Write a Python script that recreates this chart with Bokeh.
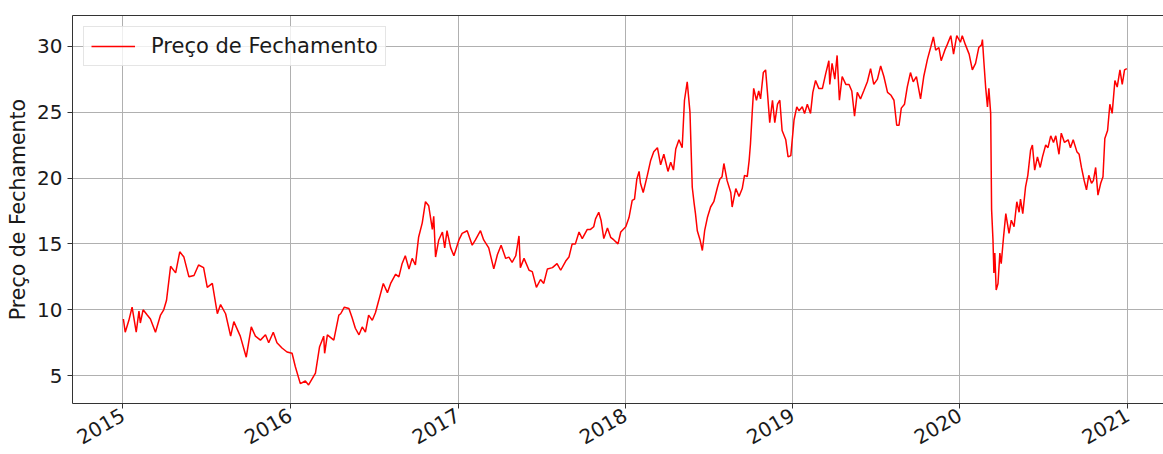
import math
from datetime import datetime
import pandas as pd
from bokeh.plotting import figure
from bokeh.models import ColumnDataSource, Range1d, FixedTicker, DatetimeTickFormatter, DatetimeAxis
from bokeh.embed import file_html
from bokeh.resources import INLINE

# ---------------- data ----------------
datas_2015 = ["2015-01-02", "2015-01-06", "2015-01-14", "2015-01-21", "2015-01-30", "2015-02-05", "2015-02-08",
              "2015-02-14", "2015-02-23", "2015-03-02", "2015-03-13", "2015-03-24", "2015-03-31", "2015-04-06",
              "2015-04-15", "2015-04-26", "2015-05-05", "2015-05-14", "2015-05-25", "2015-06-05", "2015-06-15",
              "2015-06-26", "2015-07-04", "2015-07-15", "2015-07-26", "2015-08-02", "2015-08-13", "2015-08-24",
              "2015-08-31", "2015-09-14", "2015-09-27", "2015-10-08", "2015-10-17", "2015-10-28", "2015-11-08",
              "2015-11-15", "2015-11-25", "2015-12-03", "2015-12-14", "2015-12-25"]
precos_2015 = [9.3, 8.3, 9.2, 10.2, 8.3, 9.9, 9.0,
               10.0, 9.6, 9.3, 8.3, 9.6, 10.0, 10.7,
               13.3, 12.8, 14.4, 14.0, 12.5, 12.6, 13.4,
               13.2, 11.7, 12.0, 9.7, 10.4, 9.7, 8.0,
               9.1, 8.0, 6.4, 8.7, 8.0, 7.7, 8.1,
               7.5, 8.3, 7.5, 7.1, 6.8]

datas_2016 = ["2016-01-05", "2016-01-12", "2016-01-23", "2016-02-03", "2016-02-10", "2016-02-25", "2016-03-05",
              "2016-03-14", "2016-03-16", "2016-03-22", "2016-04-05", "2016-04-16", "2016-04-20", "2016-04-28",
              "2016-05-08", "2016-05-15", "2016-05-22", "2016-05-30", "2016-06-06", "2016-06-13", "2016-06-20",
              "2016-06-28", "2016-07-05", "2016-07-12", "2016-07-22", "2016-07-31", "2016-08-07", "2016-08-18",
              "2016-08-25", "2016-09-01", "2016-09-08", "2016-09-16", "2016-09-23", "2016-09-30", "2016-10-07",
              "2016-10-15", "2016-10-22", "2016-10-29", "2016-11-06", "2016-11-09", "2016-11-13", "2016-11-20",
              "2016-11-28", "2016-12-03", "2016-12-08", "2016-12-16", "2016-12-23"]
precos_2016 = [6.7, 5.7, 4.4, 4.6, 4.3, 5.2, 7.2,
               8.0, 6.7, 8.1, 7.7, 9.6, 9.7, 10.2,
               10.1, 9.4, 8.6, 8.1, 8.7, 8.3, 9.6,
               9.2, 9.8, 10.7, 12.0, 11.3, 12.0, 12.7,
               12.5, 13.5, 14.1, 13.1, 13.9, 13.4, 15.5,
               16.6, 18.2, 17.9, 16.1, 17.1, 14.0, 15.3,
               15.9, 14.7, 16.0, 14.7, 14.1]

datas_2017 = ["2017-01-03", "2017-01-10", "2017-01-21", "2017-02-01", "2017-02-08", "2017-02-19", "2017-02-26",
              "2017-03-09", "2017-03-20", "2017-03-28", "2017-04-05", "2017-04-15", "2017-04-22", "2017-04-29",
              "2017-05-07", "2017-05-14", "2017-05-17", "2017-05-25", "2017-06-05", "2017-06-12", "2017-06-21",
              "2017-06-30", "2017-07-07", "2017-07-15", "2017-07-26", "2017-08-05", "2017-08-13", "2017-08-24",
              "2017-08-31", "2017-09-07", "2017-09-14", "2017-09-22", "2017-09-29", "2017-10-10", "2017-10-17",
              "2017-10-24", "2017-10-28", "2017-11-04", "2017-11-09", "2017-11-15", "2017-11-23", "2017-11-30",
              "2017-12-07", "2017-12-16", "2017-12-22"]
precos_2017 = [15.3, 15.8, 16.0, 14.9, 15.3, 16.0, 15.3,
               14.7, 13.1, 14.2, 14.9, 13.9, 14.0, 13.6,
               14.1, 15.6, 13.2, 13.9, 13.0, 12.9, 11.7,
               12.3, 12.0, 13.1, 13.2, 13.5, 13.0, 13.7,
               14.0, 15.0, 15.0, 15.9, 15.4, 16.1, 16.1,
               16.3, 16.9, 17.4, 16.8, 15.4, 16.2, 15.5,
               15.3, 15.0, 15.9]

datas_2018 = ["2018-01-02", "2018-01-09", "2018-01-16", "2018-01-21", "2018-01-26", "2018-01-31", "2018-02-03",
              "2018-02-09", "2018-02-18", "2018-02-25", "2018-03-04", "2018-03-12", "2018-03-19", "2018-03-26",
              "2018-04-04", "2018-04-10", "2018-04-16", "2018-04-21", "2018-04-28", "2018-05-05", "2018-05-10",
              "2018-05-16", "2018-05-22", "2018-05-27", "2018-05-31", "2018-06-03", "2018-06-07", "2018-06-13",
              "2018-06-18", "2018-06-23", "2018-06-29", "2018-07-06", "2018-07-13", "2018-07-21", "2018-07-26",
              "2018-07-31", "2018-08-04", "2018-08-11", "2018-08-19", "2018-08-22", "2018-08-30", "2018-09-06",
              "2018-09-13", "2018-09-18", "2018-09-24", "2018-09-28", "2018-10-01", "2018-10-05", "2018-10-08",
              "2018-10-14", "2018-10-19", "2018-10-23", "2018-10-29", "2018-11-03", "2018-11-07", "2018-11-12",
              "2018-11-18", "2018-11-23", "2018-11-29", "2018-12-04", "2018-12-09", "2018-12-17", "2018-12-22",
              "2018-12-28"]
precos_2018 = [16.3, 17.0, 18.3, 18.4, 19.9, 20.5, 19.6,
               18.9, 20.2, 21.3, 22.0, 22.3, 21.0, 21.8,
               20.5, 21.2, 20.6, 22.2, 22.9, 22.3, 25.9,
               27.3, 25.0, 19.3, 18.1, 17.3, 16.0, 15.3,
               14.5, 16.0, 17.0, 17.8, 18.2, 19.3, 19.9,
               20.1, 21.1, 19.8, 18.9, 17.8, 19.2, 18.6,
               19.2, 20.2, 20.1, 21.3, 22.6, 25.1, 26.8,
               25.9, 26.6, 26.0, 28.0, 28.2, 26.5, 24.2,
               25.9, 24.2, 25.6, 25.9, 23.6, 22.9, 21.6,
               21.7]

datas_2019 = ["2019-01-04", "2019-01-10", "2019-01-15", "2019-01-22", "2019-01-27", "2019-02-02", "2019-02-09",
              "2019-02-14", "2019-02-20", "2019-02-27", "2019-03-07", "2019-03-14", "2019-03-21", "2019-03-23",
              "2019-03-28", "2019-04-03", "2019-04-08", "2019-04-13", "2019-04-19", "2019-04-27", "2019-05-04",
              "2019-05-10", "2019-05-16", "2019-05-22", "2019-05-29", "2019-06-05", "2019-06-13", "2019-06-20",
              "2019-06-27", "2019-07-05", "2019-07-12", "2019-07-19", "2019-07-27", "2019-08-03", "2019-08-10",
              "2019-08-16", "2019-08-21", "2019-08-26", "2019-09-02", "2019-09-08", "2019-09-15", "2019-09-21",
              "2019-09-28", "2019-10-07", "2019-10-14", "2019-10-22", "2019-10-29", "2019-11-04", "2019-11-09",
              "2019-11-16", "2019-11-21", "2019-11-29", "2019-12-04", "2019-12-12", "2019-12-18", "2019-12-25"]
precos_2019 = [24.4, 25.4, 25.1, 25.4, 24.9, 25.6, 24.9,
               26.5, 27.4, 26.8, 26.8, 27.9, 28.9, 27.1,
               28.7, 27.5, 29.3, 25.9, 27.7, 27.1, 27.1,
               26.6, 24.7, 26.5, 26.0, 26.6, 27.3, 28.3,
               27.1, 27.5, 28.5, 27.7, 26.5, 26.3, 25.9,
               24.0, 24.0, 25.3, 25.6, 26.9, 28.0, 27.3,
               27.7, 26.0, 27.7, 29.0, 29.9, 30.7, 29.7,
               29.9, 28.9, 29.7, 30.1, 30.8, 29.4, 30.8]

datas_2020 = ["2020-01-02", "2020-01-06", "2020-01-13", "2020-01-21", "2020-01-28", "2020-02-04", "2020-02-11",
              "2020-02-17", "2020-02-19", "2020-02-22", "2020-02-26", "2020-03-01", "2020-03-04", "2020-03-08",
              "2020-03-10", "2020-03-13", "2020-03-15", "2020-03-17", "2020-03-20", "2020-03-24", "2020-03-28",
              "2020-03-31", "2020-04-05", "2020-04-10", "2020-04-17", "2020-04-22", "2020-04-28", "2020-05-04",
              "2020-05-09", "2020-05-12", "2020-05-17", "2020-05-23", "2020-05-28", "2020-06-03", "2020-06-07",
              "2020-06-12", "2020-06-18", "2020-06-24", "2020-06-29", "2020-07-06", "2020-07-11", "2020-07-17",
              "2020-07-23", "2020-07-28", "2020-08-04", "2020-08-09", "2020-08-16", "2020-08-24", "2020-08-29",
              "2020-09-04", "2020-09-12", "2020-09-17", "2020-09-22", "2020-09-28", "2020-10-03", "2020-10-08",
              "2020-10-14", "2020-10-18", "2020-10-23", "2020-10-28", "2020-11-03", "2020-11-08", "2020-11-12",
              "2020-11-18", "2020-11-23", "2020-11-28", "2020-12-04", "2020-12-09", "2020-12-15", "2020-12-20",
              "2020-12-25", "2020-12-30"]
precos_2020 = [30.3, 30.8, 30.1, 29.4, 28.2, 28.7, 29.9,
               30.1, 30.5, 28.9, 26.9, 25.4, 26.8, 24.9,
               17.6, 15.3, 12.8, 14.3, 11.5, 12.0, 14.3,
               13.5, 15.5, 17.3, 15.8, 16.8, 16.3, 18.2,
               17.4, 18.4, 17.3, 19.3, 20.2, 22.1, 22.5,
               20.6, 21.6, 20.8, 21.6, 22.5, 22.3, 23.2,
               22.7, 23.2, 21.8, 23.4, 22.7, 22.9, 22.3,
               22.9, 22.0, 21.8, 20.8, 19.8, 19.1, 20.2,
               19.6, 19.8, 20.8, 18.7, 19.6, 20.1, 23.0,
               23.6, 25.6, 24.9, 27.4, 26.9, 28.2, 27.1,
               28.2, 28.3]

anos_ticks = [2015, 2016, 2017, 2018, 2019, 2020, 2021]
y_ticks = [5, 10, 15, 20, 25, 30]
rotulo = "Preço de Fechamento"

# ---------------- build ----------------
datas = datas_2015 + datas_2016 + datas_2017 + datas_2018 + datas_2019 + datas_2020
precos = precos_2015 + precos_2016 + precos_2017 + precos_2018 + precos_2019 + precos_2020
df = pd.DataFrame({"data": pd.to_datetime(datas), "preco": precos})
src = ColumnDataSource(df)

FONT = "DejaVu Sans"
TXT = "#1a1a1a"
SPINE = "#333333"

p = figure(width=1163, height=454, x_axis_type="datetime",
           output_backend="svg", toolbar_location=None,
           x_range=Range1d(datetime(2014, 9, 13), datetime(2021, 3, 20)),
           y_range=Range1d(2.89, 32.33),
           min_border_left=72, min_border_right=0, min_border_top=15, min_border_bottom=50)
p.outline_line_color = None
p.background_fill_color = "white"
p.border_fill_color = "white"

p.line("data", "preco", source=src, line_color="#ff0000", line_width=1.5, legend_label=rotulo)

tick_ms = [pd.Timestamp(f"{a}-01-01").value // 10**6 for a in anos_ticks]
p.xaxis.ticker = FixedTicker(ticks=tick_ms)
p.xaxis.formatter = DatetimeTickFormatter(years="%Y", months="%Y", days="%Y", hours="%Y",
                                          minutes="%Y", seconds="%Y", milliseconds="%Y")
p.xaxis.major_label_orientation = math.pi / 6
p.yaxis.ticker = FixedTicker(ticks=y_ticks)

for ax in (p.xaxis, p.yaxis):
    ax.major_label_text_font = FONT
    ax.major_label_text_font_size = "20px"
    ax.major_label_text_color = TXT
    ax.axis_line_color = SPINE
    ax.axis_line_width = 1
    ax.major_tick_line_color = SPINE
    ax.major_tick_out = 5
    ax.major_tick_in = 0
    ax.minor_tick_out = 0
    ax.minor_tick_in = 0
    ax.major_label_standoff = 5

p.yaxis.axis_label = rotulo
p.yaxis.axis_label_text_font = FONT
p.yaxis.axis_label_text_font_size = "20.5px"
p.yaxis.axis_label_text_font_style = "normal"
p.yaxis.axis_label_text_color = TXT
p.yaxis.axis_label_standoff = 4

top = DatetimeAxis(ticker=FixedTicker(ticks=[]), major_label_text_font_size="0px",
                   major_tick_out=0, minor_tick_out=0, major_label_standoff=0,
                   axis_line_color=SPINE, axis_line_width=1)
p.add_layout(top, "above")

p.xgrid.grid_line_color = "#b0b0b0"
p.ygrid.grid_line_color = "#b0b0b0"
p.xgrid.grid_line_width = 1
p.ygrid.grid_line_width = 1

lg = p.legend[0]
lg.location = "top_left"
lg.margin = 11
lg.padding = 7
lg.spacing = 0
lg.glyph_width = 44
lg.glyph_height = 22
lg.label_height = 22
lg.label_standoff = 16
lg.label_text_font = FONT
lg.label_text_font_size = "21px"
lg.label_text_color = TXT
lg.border_line_color = "#cccccc"
lg.border_line_width = 1
lg.background_fill_alpha = 0.8

open("out.html", "w").write(file_html(p, INLINE))
